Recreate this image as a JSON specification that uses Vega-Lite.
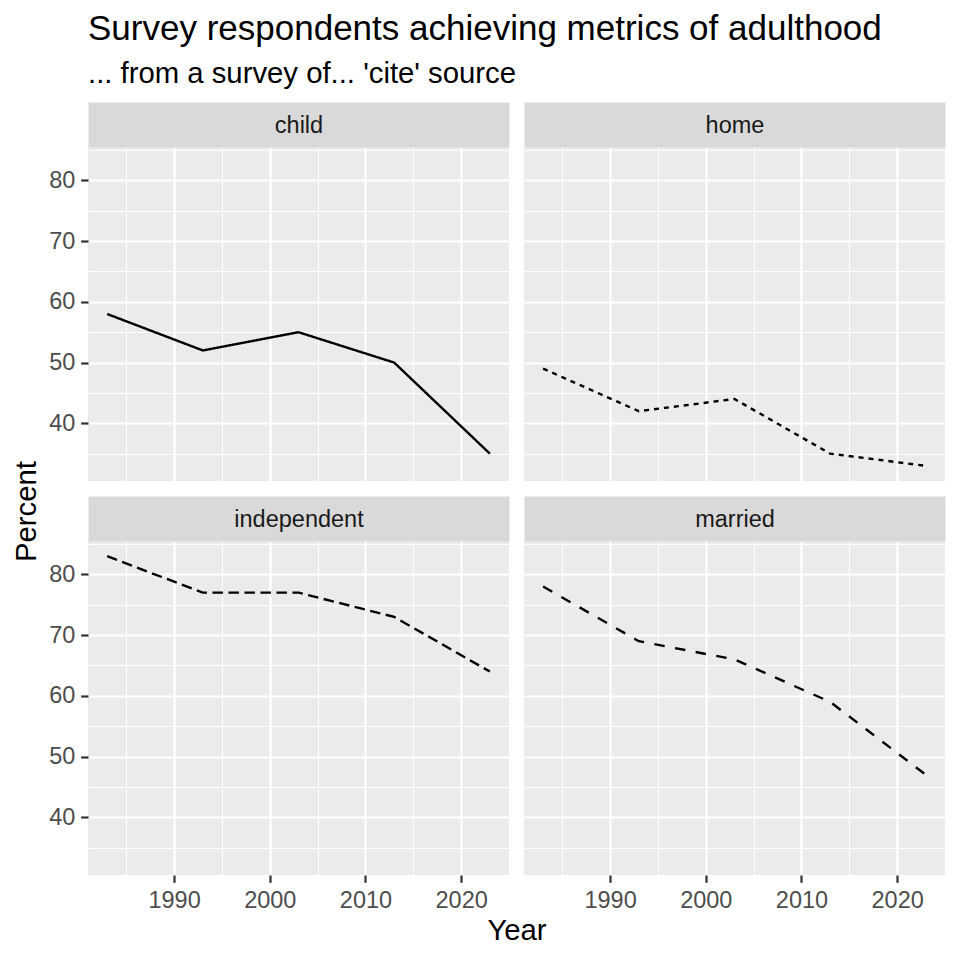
{
  "$schema": "https://vega.github.io/schema/vega-lite/v6.json",
  "background": "white",
  "padding": {"left": 12, "top": 12, "right": 15, "bottom": 13},
  "title": {
    "text": "Survey respondents achieving metrics of adulthood",
    "subtitle": "... from a survey of... 'cite' source",
    "anchor": "start",
    "frame": "group",
    "font": "Liberation Sans",
    "subtitleFont": "Liberation Sans",
    "fontSize": 35,
    "subtitleFontSize": 29.3,
    "fontWeight": "normal",
    "color": "#000000",
    "subtitleColor": "#000000",
    "subtitlePadding": 13,
    "offset": 24
  },
  "datasets": {
    "adult": [
      {"metric": "child", "year": 1983, "percent": 58},
      {"metric": "child", "year": 1993, "percent": 52},
      {"metric": "child", "year": 2003, "percent": 55},
      {"metric": "child", "year": 2013, "percent": 50},
      {"metric": "child", "year": 2023, "percent": 35},
      {"metric": "home", "year": 1983, "percent": 49},
      {"metric": "home", "year": 1993, "percent": 42},
      {"metric": "home", "year": 2003, "percent": 44},
      {"metric": "home", "year": 2013, "percent": 35},
      {"metric": "home", "year": 2023, "percent": 33},
      {"metric": "independent", "year": 1983, "percent": 83},
      {"metric": "independent", "year": 1993, "percent": 77},
      {"metric": "independent", "year": 2003, "percent": 77},
      {"metric": "independent", "year": 2013, "percent": 73},
      {"metric": "independent", "year": 2023, "percent": 64},
      {"metric": "married", "year": 1983, "percent": 78},
      {"metric": "married", "year": 1993, "percent": 69},
      {"metric": "married", "year": 2003, "percent": 66},
      {"metric": "married", "year": 2013, "percent": 59},
      {"metric": "married", "year": 2023, "percent": 47}
    ]
  },
  "config": {
    "view": {"stroke": null, "fill": "#EBEBEB"},
    "font": "Liberation Sans",
    "axis": {
      "domain": false,
      "gridColor": "#FFFFFF",
      "tickColor": "#333333",
      "tickSize": 7.3,
      "tickWidth": 2.2,
      "labelFont": "Liberation Sans",
      "labelFontSize": 23.5,
      "labelColor": "#4D4D4D",
      "labelPadding": 5.9,
      "labelOverlap": false,
      "labelFlush": false,
      "titleFont": "Liberation Sans",
      "titleFontWeight": "normal",
      "titleColor": "#000000",
      "titleFontSize": 29.3
    }
  },
  "columns": 2,
  "bounds": "flush",
  "spacing": {"row": 60, "column": 15},
  "concat": [
    {
      "width": 421, "height": 334,
      "data": {"name": "adult"},
      "transform": [{"filter": "datum.metric === 'child'"}],
      "resolve": {"axis": {"x": "independent", "y": "independent"}},
      "layer": [
        {
          "mark": {"type": "line", "strokeOpacity": 0},
          "encoding": {
            "x": {"field": "year", "type": "quantitative", "scale": {"domain": [1981, 2025], "nice": false, "zero": false},
              "axis": {"orient": "top", "values": [1985, 1990, 1995, 2000, 2005, 2010, 2015, 2020, 2025], "labels": false, "ticks": false,
                "grid": true, "gridWidth": {"condition": {"test": "datum.value % 10 === 0", "value": 2.2}, "value": 1.1},
                "domain": true, "domainColor": "#D9D9D9", "domainWidth": 45, "offset": 22.5,
                "title": "child", "titleFontSize": 23.5, "titleColor": "#1A1A1A", "titleBaseline": "middle", "titleY": 1}},
            "y": {"field": "percent", "type": "quantitative", "scale": {"domain": [30.5, 85.5], "nice": false, "zero": false},
              "axis": {"orient": "left", "values": [35, 40, 45, 50, 55, 60, 65, 70, 75, 80, 85],
                "labelExpr": "datum.value % 10 === 0 ? datum.label : ''",
                "tickOpacity": {"condition": {"test": "datum.value % 10 === 0", "value": 1}, "value": 0},
                "grid": true, "gridWidth": {"condition": {"test": "datum.value % 10 === 0", "value": 2.2}, "value": 1.1},
                "title": "Percent", "titleY": 364, "titlePadding": 7.3}}
          }
        },
        {
          "mark": {"type": "line", "color": "#000000", "strokeWidth": 2.4},
          "encoding": {
            "x": {"field": "year", "type": "quantitative", "scale": {"domain": [1981, 2025], "nice": false, "zero": false}, "axis": null},
            "y": {"field": "percent", "type": "quantitative", "scale": {"domain": [30.5, 85.5], "nice": false, "zero": false}, "axis": null},
            "strokeDash": {"field": "metric", "type": "nominal", "legend": null,
              "scale": {"domain": ["child", "home", "independent", "married"], "range": [[1, 0], [5, 5], [10.5, 5.5], [10.5, 10.5]]}}
          }
        }
      ]
    },
    {
      "width": 421, "height": 334,
      "data": {"name": "adult"},
      "transform": [{"filter": "datum.metric === 'home'"}],
      "resolve": {"axis": {"x": "independent", "y": "independent"}},
      "layer": [
        {
          "mark": {"type": "line", "strokeOpacity": 0},
          "encoding": {
            "x": {"field": "year", "type": "quantitative", "scale": {"domain": [1981, 2025], "nice": false, "zero": false},
              "axis": {"orient": "top", "values": [1985, 1990, 1995, 2000, 2005, 2010, 2015, 2020, 2025], "labels": false, "ticks": false,
                "grid": true, "gridWidth": {"condition": {"test": "datum.value % 10 === 0", "value": 2.2}, "value": 1.1},
                "domain": true, "domainColor": "#D9D9D9", "domainWidth": 45, "offset": 22.5,
                "title": "home", "titleFontSize": 23.5, "titleColor": "#1A1A1A", "titleBaseline": "middle", "titleY": 1}},
            "y": {"field": "percent", "type": "quantitative", "scale": {"domain": [30.5, 85.5], "nice": false, "zero": false},
              "axis": {"orient": "left", "values": [35, 40, 45, 50, 55, 60, 65, 70, 75, 80, 85], "labels": false, "ticks": false,
                "grid": true, "gridWidth": {"condition": {"test": "datum.value % 10 === 0", "value": 2.2}, "value": 1.1},
                "title": null}}
          }
        },
        {
          "mark": {"type": "line", "color": "#000000", "strokeWidth": 2.4},
          "encoding": {
            "x": {"field": "year", "type": "quantitative", "scale": {"domain": [1981, 2025], "nice": false, "zero": false}, "axis": null},
            "y": {"field": "percent", "type": "quantitative", "scale": {"domain": [30.5, 85.5], "nice": false, "zero": false}, "axis": null},
            "strokeDash": {"field": "metric", "type": "nominal", "legend": null,
              "scale": {"domain": ["child", "home", "independent", "married"], "range": [[1, 0], [5, 5], [10.5, 5.5], [10.5, 10.5]]}}
          }
        }
      ]
    },
    {
      "width": 421, "height": 334,
      "data": {"name": "adult"},
      "transform": [{"filter": "datum.metric === 'independent'"}],
      "resolve": {"axis": {"x": "independent", "y": "independent"}},
      "layer": [
        {
          "mark": {"type": "line", "strokeOpacity": 0},
          "encoding": {
            "x": {"field": "year", "type": "quantitative", "scale": {"domain": [1981, 2025], "nice": false, "zero": false},
              "axis": {"orient": "top", "values": [1985, 1990, 1995, 2000, 2005, 2010, 2015, 2020, 2025], "labels": false, "ticks": false,
                "grid": true, "gridWidth": {"condition": {"test": "datum.value % 10 === 0", "value": 2.2}, "value": 1.1},
                "domain": true, "domainColor": "#D9D9D9", "domainWidth": 45, "offset": 22.5,
                "title": "independent", "titleFontSize": 23.5, "titleColor": "#1A1A1A", "titleBaseline": "middle", "titleY": 1}},
            "y": {"field": "percent", "type": "quantitative", "scale": {"domain": [30.5, 85.5], "nice": false, "zero": false},
              "axis": {"orient": "left", "values": [35, 40, 45, 50, 55, 60, 65, 70, 75, 80, 85],
                "labelExpr": "datum.value % 10 === 0 ? datum.label : ''",
                "tickOpacity": {"condition": {"test": "datum.value % 10 === 0", "value": 1}, "value": 0},
                "grid": true, "gridWidth": {"condition": {"test": "datum.value % 10 === 0", "value": 2.2}, "value": 1.1},
                "title": null}}
          }
        },
        {
          "mark": {"type": "line", "color": "#000000", "strokeWidth": 2.4},
          "encoding": {
            "x": {"field": "year", "type": "quantitative", "scale": {"domain": [1981, 2025], "nice": false, "zero": false},
              "axis": {"orient": "bottom", "values": [1990, 2000, 2010, 2020], "format": "d", "grid": false,
                "title": "Year", "titleX": 428.5, "titlePadding": 5}},
            "y": {"field": "percent", "type": "quantitative", "scale": {"domain": [30.5, 85.5], "nice": false, "zero": false}, "axis": null},
            "strokeDash": {"field": "metric", "type": "nominal", "legend": null,
              "scale": {"domain": ["child", "home", "independent", "married"], "range": [[1, 0], [5, 5], [10.5, 5.5], [10.5, 10.5]]}}
          }
        }
      ]
    },
    {
      "width": 421, "height": 334,
      "data": {"name": "adult"},
      "transform": [{"filter": "datum.metric === 'married'"}],
      "resolve": {"axis": {"x": "independent", "y": "independent"}},
      "layer": [
        {
          "mark": {"type": "line", "strokeOpacity": 0},
          "encoding": {
            "x": {"field": "year", "type": "quantitative", "scale": {"domain": [1981, 2025], "nice": false, "zero": false},
              "axis": {"orient": "top", "values": [1985, 1990, 1995, 2000, 2005, 2010, 2015, 2020, 2025], "labels": false, "ticks": false,
                "grid": true, "gridWidth": {"condition": {"test": "datum.value % 10 === 0", "value": 2.2}, "value": 1.1},
                "domain": true, "domainColor": "#D9D9D9", "domainWidth": 45, "offset": 22.5,
                "title": "married", "titleFontSize": 23.5, "titleColor": "#1A1A1A", "titleBaseline": "middle", "titleY": 1}},
            "y": {"field": "percent", "type": "quantitative", "scale": {"domain": [30.5, 85.5], "nice": false, "zero": false},
              "axis": {"orient": "left", "values": [35, 40, 45, 50, 55, 60, 65, 70, 75, 80, 85], "labels": false, "ticks": false,
                "grid": true, "gridWidth": {"condition": {"test": "datum.value % 10 === 0", "value": 2.2}, "value": 1.1},
                "title": null}}
          }
        },
        {
          "mark": {"type": "line", "color": "#000000", "strokeWidth": 2.4},
          "encoding": {
            "x": {"field": "year", "type": "quantitative", "scale": {"domain": [1981, 2025], "nice": false, "zero": false},
              "axis": {"orient": "bottom", "values": [1990, 2000, 2010, 2020], "format": "d", "grid": false, "title": null}},
            "y": {"field": "percent", "type": "quantitative", "scale": {"domain": [30.5, 85.5], "nice": false, "zero": false}, "axis": null},
            "strokeDash": {"field": "metric", "type": "nominal", "legend": null,
              "scale": {"domain": ["child", "home", "independent", "married"], "range": [[1, 0], [5, 5], [10.5, 5.5], [10.5, 10.5]]}}
          }
        }
      ]
    }
  ]
}
